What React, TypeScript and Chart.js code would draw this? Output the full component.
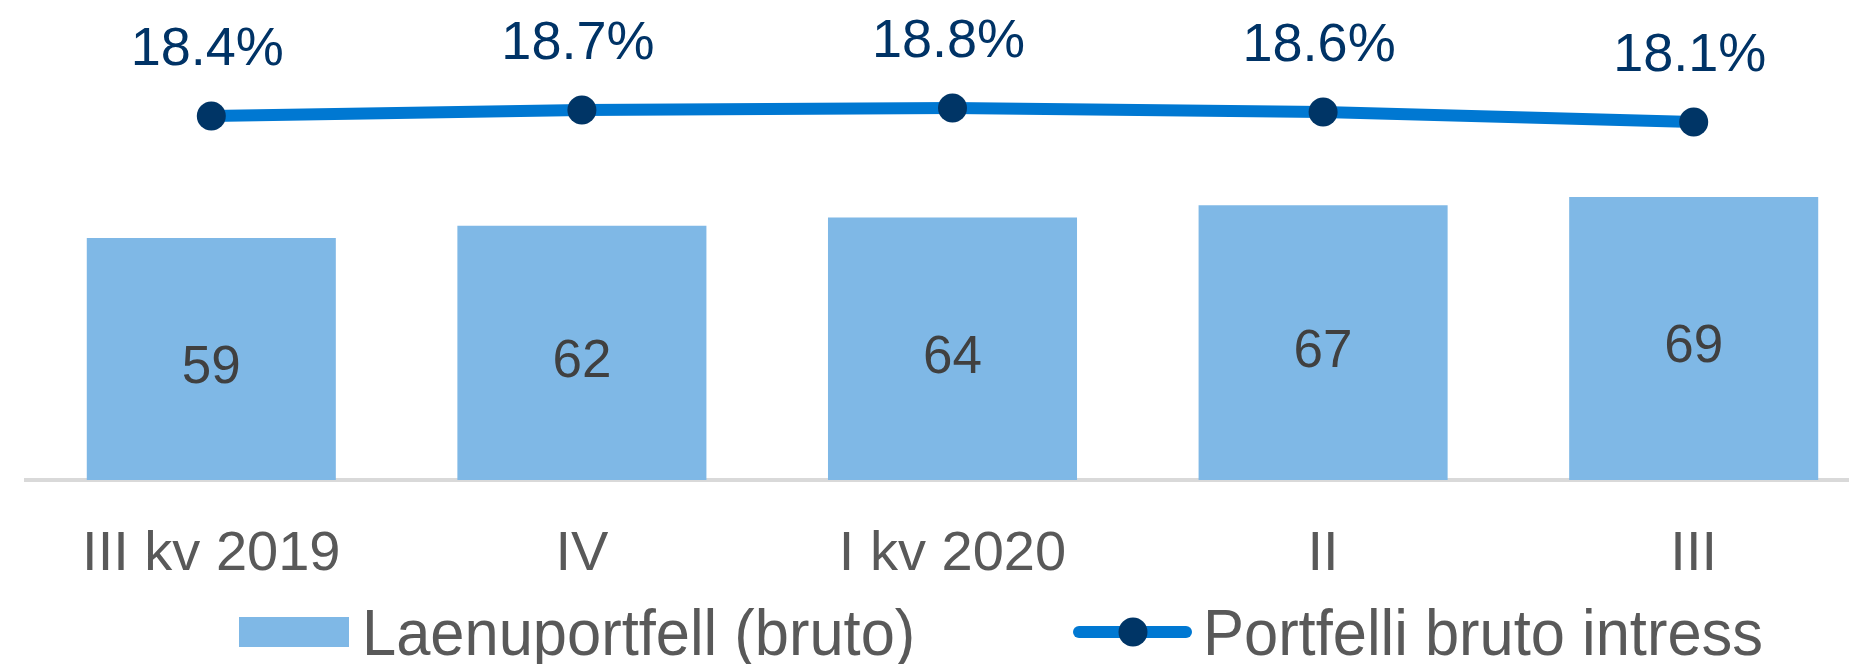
import React, { useEffect, useRef } from "react";
import { Chart, registerables } from "chart.js";

Chart.register(...registerables);

const categories: string[] = ["III kv 2019", "IV", "I kv 2020", "II", "III"];
const loanPortfolio: number[] = [59, 62, 64, 67, 69];
const grossInterest: number[] = [18.4, 18.7, 18.8, 18.6, 18.1];
const seriesNames: string[] = ["Laenuportfell (bruto)", "Portfelli bruto intress"];

const FONT = "'Liberation Sans', Arial, Helvetica, sans-serif";
const BAR_COLOR = "#7FB8E6";
const LINE_COLOR = "#0078D2";
const POINT_COLOR = "#003566";
const PCT_COLOR = "#003366";
const BAR_LABEL_COLOR = "#404040";
const TEXT_COLOR = "#595959";

function drawScaledText(
  ctx: CanvasRenderingContext2D,
  text: string,
  x: number,
  y: number,
  sx: number,
  align: CanvasTextAlign
) {
  ctx.save();
  ctx.translate(x, y);
  ctx.scale(sx, 1);
  ctx.textAlign = align;
  ctx.fillText(text, 0, 0);
  ctx.restore();
}

const labelsPlugin = {
  id: "valueLabels",
  afterDatasetsDraw(chart: any) {
    const ctx: CanvasRenderingContext2D = chart.ctx;
    ctx.save();
    ctx.textBaseline = "alphabetic";
    // bar labels
    const barMeta = chart.getDatasetMeta(0);
    ctx.fillStyle = BAR_LABEL_COLOR;
    ctx.font = `53px ${FONT}`;
    barMeta.data.forEach((el: any, i: number) => {
      const cy = (el.y + el.base) / 2 + 5;
      drawScaledText(ctx, String(chart.data.datasets[0].data[i]), el.x, cy + 0.358 * 53, 1, "center");
    });
    // percent labels
    const lineMeta = chart.getDatasetMeta(1);
    ctx.fillStyle = PCT_COLOR;
    ctx.font = `54px ${FONT}`;
    lineMeta.data.forEach((el: any, i: number) => {
      const v = chart.data.datasets[1].data[i] as number;
      const cy = el.y - 70;
      drawScaledText(ctx, v.toFixed(1) + "%", el.x - 4, cy + 0.358 * 54, 1, "center");
    });
    ctx.restore();
  },
};

const legendPlugin = {
  id: "customLegend",
  afterDraw(chart: any) {
    const ctx: CanvasRenderingContext2D = chart.ctx;
    const ds = chart.data.datasets;
    ctx.save();
    ctx.font = `64px ${FONT}`;
    ctx.textBaseline = "alphabetic";
    // bar item
    ctx.fillStyle = ds[0].backgroundColor;
    ctx.fillRect(239, 617, 110, 30);
    ctx.fillStyle = TEXT_COLOR;
    drawScaledText(ctx, ds[0].label, 362, 655, 0.96, "left");
    // line item
    ctx.strokeStyle = ds[1].borderColor;
    ctx.lineWidth = 12;
    ctx.lineCap = "round";
    ctx.beginPath();
    ctx.moveTo(1079, 632);
    ctx.lineTo(1186, 632);
    ctx.stroke();
    ctx.fillStyle = ds[1].pointBackgroundColor;
    ctx.beginPath();
    ctx.arc(1133, 632, 14.5, 0, Math.PI * 2);
    ctx.fill();
    ctx.fillStyle = TEXT_COLOR;
    drawScaledText(ctx, ds[1].label, 1203, 655, 0.96, "left");
    ctx.restore();
  },
};

export default function App() {
  const canvasRef = useRef<HTMLCanvasElement | null>(null);

  useEffect(() => {
    if (!canvasRef.current) return;
    const chart = new Chart(canvasRef.current, {
      type: "bar",
      data: {
        labels: categories,
        datasets: [
          {
            type: "bar",
            label: seriesNames[0],
            data: loanPortfolio,
            backgroundColor: BAR_COLOR,
            borderWidth: 0,
            yAxisID: "y",
            order: 2,
            categoryPercentage: 1,
            barPercentage: 0.672,
          } as any,
          {
            type: "line",
            label: seriesNames[1],
            data: grossInterest,
            borderColor: LINE_COLOR,
            borderWidth: 12,
            pointRadius: 14.5,
            pointHoverRadius: 14.5,
            pointBackgroundColor: POINT_COLOR,
            pointBorderWidth: 0,
            tension: 0,
            yAxisID: "y2",
            order: 1,
            clip: false,
          } as any,
        ],
      },
      options: {
        animation: false,
        responsive: true,
        maintainAspectRatio: false,
        layout: { autoPadding: false, padding: { left: 26, right: 21, top: 0, bottom: 0 } },
        plugins: {
          legend: { display: false },
          tooltip: { enabled: false },
        },
        scales: {
          x: {
            z: 1,
            grid: { display: false },
            border: { display: true, color: "#D9D9D9", width: 4 },
            ticks: {
              color: TEXT_COLOR,
              font: { family: FONT, size: 56 },
              padding: 33,
              maxRotation: 0,
              autoSkip: false,
            },
            afterFit: (scale: any) => {
              scale.height = 184;
            },
          },
          y: {
            display: false,
            min: 0,
            max: 117,
          },
          y2: {
            display: false,
            position: "right",
            min: 0.2,
            max: 24.2,
          },
        },
      },
      plugins: [labelsPlugin, legendPlugin],
    });
    return () => chart.destroy();
  }, []);

  return (
    <div
      style={{
        position: "fixed",
        left: 0,
        top: 0,
        width: "1849px",
        height: "664px",
        overflow: "hidden",
        background: "#fff",
      }}
    >
      <div style={{ position: "absolute", left: 0, top: 0, width: "1900px", height: "664px" }}>
        <canvas ref={canvasRef} />
      </div>
    </div>
  );
}
